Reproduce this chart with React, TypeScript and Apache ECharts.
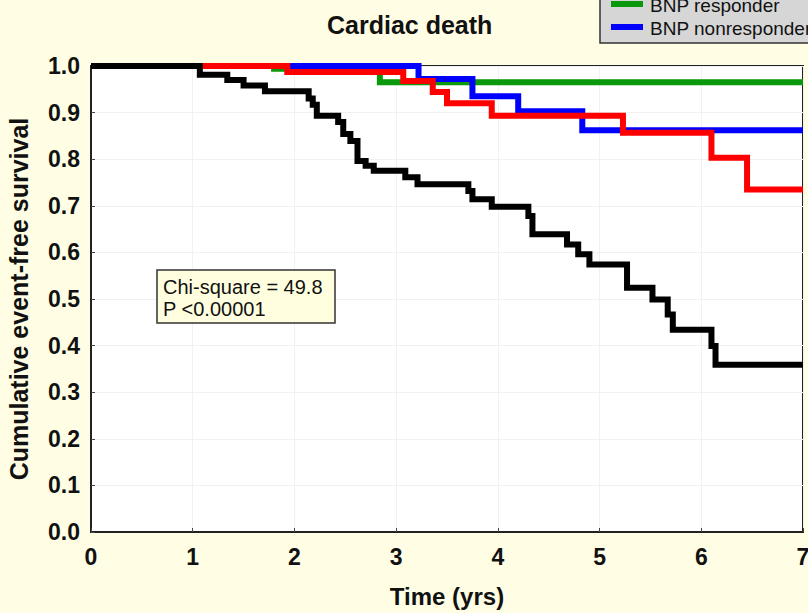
import React, { useEffect, useRef } from "react";
import * as echarts from "echarts";

// Kaplan–Meier step points: [time (yrs), cumulative event-free survival]
const greenTimes = [0, 1.8, 2.84, 7];
const greenSurv = [1.0, 0.994, 0.965, 0.965];

const blueTimes = [0, 3.22, 3.75, 4.2, 4.83, 7];
const blueSurv = [1.0, 0.972, 0.935, 0.903, 0.862, 0.862];

const redTimes = [0, 1.93, 3.07, 3.36, 3.5, 3.94, 5.23, 6.1, 6.45, 7];
const redSurv = [1.0, 0.987, 0.968, 0.944, 0.92, 0.893, 0.857, 0.803, 0.735, 0.735];

const blackTimes = [
  0, 1.07, 1.34, 1.5, 1.71, 2.14, 2.18, 2.22, 2.43, 2.48, 2.55, 2.62, 2.7, 2.78,
  3.09, 3.21, 3.71, 3.75, 3.94, 4.3, 4.34, 4.68, 4.79, 4.9, 5.27, 5.52, 5.67,
  5.72, 6.1, 6.14, 7,
];
const blackSurv = [
  1.0, 0.981, 0.97, 0.958, 0.946, 0.93, 0.917, 0.893, 0.88, 0.854, 0.839, 0.796,
  0.786, 0.775, 0.761, 0.746, 0.732, 0.714, 0.698, 0.678, 0.639, 0.617, 0.596,
  0.574, 0.524, 0.499, 0.467, 0.434, 0.399, 0.359, 0.359,
];

const xTicks = [0, 1, 2, 3, 4, 5, 6, 7];
const legendNames = ["BNP responder", "BNP nonresponder"];
const legendColors = ["#0a990a", "#0000ff"];
const statLines = ["Chi-square = 49.8", "P <0.00001"];

const FONT = "Arial, 'Liberation Sans', sans-serif";

const pair = (t: number[], s: number[]) => t.map((v, i) => [v, s[i]]);

export default function App() {
  const ref = useRef<HTMLDivElement>(null);

  useEffect(() => {
    if (!ref.current) return;
    const chart = echarts.init(ref.current, null, { renderer: "svg" });

    const stepSeries = (name: string, color: string, data: number[][], z: number) => ({
      name,
      type: "line",
      step: "end",
      data,
      showSymbol: false,
      clip: false,
      z,
      lineStyle: { color, width: 6, cap: "butt", join: "miter" },
    });

    chart.setOption({
      animation: false,
      backgroundColor: "#fffee4",
      title: {
        text: "Cardiac death",
        left: 327,
        top: 12,
        padding: 0,
        textStyle: { fontFamily: FONT, fontSize: 25, fontWeight: "bold", color: "#111" },
      },
      grid: {
        left: 91,
        right: 5,
        top: 66,
        bottom: 81,
        outerBoundsMode: "none",
        containLabel: false,
        show: true,
        backgroundColor: "#ffffff",
        borderColor: "#222",
        borderWidth: 2,
      },
      xAxis: {
        type: "value",
        min: 0,
        max: 7,
        interval: 1,
        name: "Time (yrs)",
        nameLocation: "middle",
        nameGap: 52,
        nameTextStyle: { fontFamily: FONT, fontSize: 24, fontWeight: "bold", color: "#111" },
        axisLine: { lineStyle: { color: "#222", width: 2 } },
        axisTick: { inside: true, length: 4, lineStyle: { color: "#444" } },
        axisLabel: {
          fontFamily: FONT,
          fontSize: 23,
          fontWeight: "bold",
          color: "#111",
          margin: 13,
          formatter: (v: number) => (xTicks.includes(v) ? String(v) : ""),
        },
        splitLine: { lineStyle: { color: "#f1f1f1", width: 1 } },
      },
      yAxis: {
        type: "value",
        min: 0,
        max: 1,
        interval: 0.1,
        name: "Cumulative event-free survival",
        nameLocation: "middle",
        nameGap: 60,
        nameTextStyle: { fontFamily: FONT, fontSize: 25, fontWeight: "bold", color: "#111" },
        axisLine: { show: true, lineStyle: { color: "#222", width: 2 } },
        axisTick: { show: true, inside: true, length: 4, lineStyle: { color: "#444" } },
        axisLabel: {
          fontFamily: FONT,
          fontSize: 23,
          fontWeight: "bold",
          color: "#111",
          margin: 11,
          formatter: (v: number) => v.toFixed(1),
        },
        splitLine: { lineStyle: { color: "#f1f1f1", width: 1 } },
      },
      series: [
        stepSeries("BNP responder", legendColors[0], pair(greenTimes, greenSurv), 2),
        stepSeries("BNP nonresponder", legendColors[1], pair(blueTimes, blueSurv), 3),
        stepSeries("red", "#ff0000", pair(redTimes, redSurv), 4),
        stepSeries("black", "#000000", pair(blackTimes, blackSurv), 5),
      ],
      graphic: [
        // statistics box
        {
          type: "rect",
          shape: { x: 157, y: 270, width: 178, height: 53 },
          style: { fill: "#ffffe0", stroke: "#333", lineWidth: 1.5 },
          z: 10,
        },
        ...statLines.map((t, i) => ({
          type: "text",
          x: 163,
          y: 287 + i * 22,
          z: 11,
          style: {
            text: t,
            font: `20px ${FONT}`,
            fill: "#111",
            verticalAlign: "middle",
            textVerticalAlign: "middle",
          },
        })),
        // legend panel
        {
          type: "rect",
          shape: { x: 600, y: -60, width: 230, height: 103 },
          style: { fill: "#d6d6d6", stroke: "#333", lineWidth: 1.5 },
          z: 10,
        },
        ...legendNames.flatMap((name, i) => [
          {
            type: "line",
            shape: { x1: 611, y1: 4 + i * 23, x2: 643, y2: 4 + i * 23 },
            style: { stroke: legendColors[i], lineWidth: 6 },
            z: 11,
          },
          {
            type: "text",
            x: 650,
            y: 5 + i * 23,
            z: 11,
            style: {
              text: name,
              font: `19px ${FONT}`,
              fill: "#111",
              verticalAlign: "middle",
              textVerticalAlign: "middle",
            },
          },
        ]),
      ],
    });

    return () => chart.dispose();
  }, []);

  return (
    <div
      ref={ref}
      style={{ position: "fixed", left: 0, top: 0, width: 808, height: 613 }}
    />
  );
}
